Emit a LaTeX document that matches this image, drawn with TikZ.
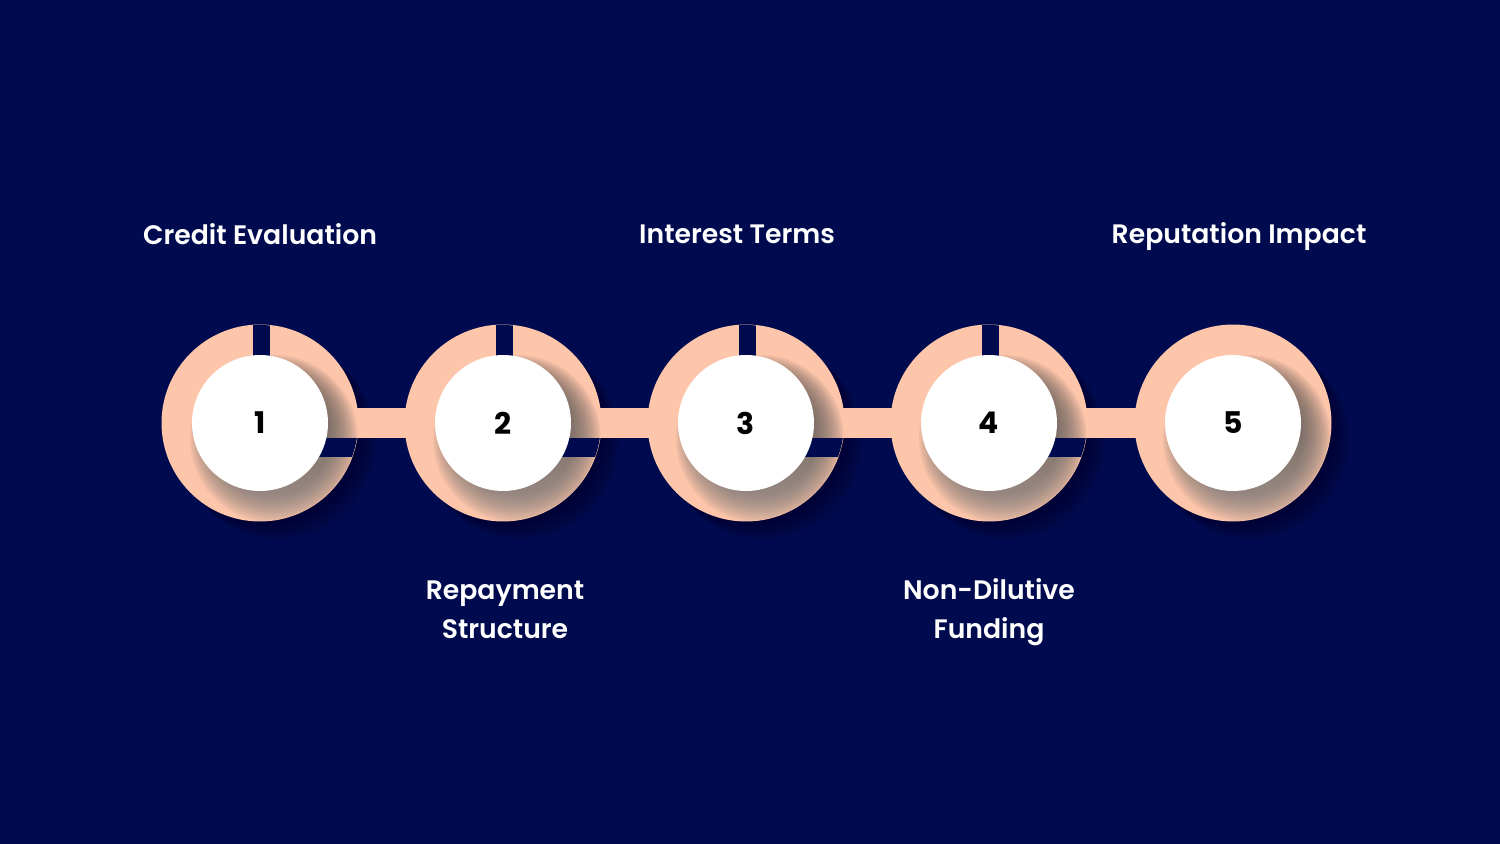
\documentclass[tikz,border=0pt]{standalone}
\usepackage{fontspec}
\setmainfont{Poppins}
\newfontfamily\labelfont{Poppins SemiBold}
\usetikzlibrary{positioning}

\definecolor{navy}{HTML}{000B4F}
\definecolor{peach}{HTML}{FDC5AA}
\definecolor{shade}{HTML}{8A4A34}

\begin{document}
\begin{tikzpicture}[x=0.02cm, y=-0.02cm,
        ring/.style={circle, fill=peach, minimum size=3.94cm, inner sep=0pt},
        disc/.style={circle, fill=white, minimum size=2.72cm, inner sep=0pt,
            font=\bfseries\fontsize{17}{17}\selectfont},
        link/.style={peach, line width=0.6cm},
        title/.style={white, align=center, font=\labelfont\fontsize{15.2}{22}\selectfont}]

        % background
        \useasboundingbox (0,0) rectangle (1500,844);
        \fill[navy] (0,0) rectangle (1500,844);

        % soft shadow of the rings
        \foreach \x in {260,503,746,989,1233}
        {
            \foreach \k in {1,...,10}
            {
                \fill[black, opacity=0.03] (\x+\k*2,423+\k*2) circle (98);
            }
        }

        % rings
        \foreach \i/\x in {1/260,2/503,3/746,4/989,5/1233}
        {
            \node[ring] (r\i) at (\x,423) {};
        }

        % links between rings
        \foreach \a/\b in {1/2,2/3,3/4,4/5}
        {
            \draw[link] (r\a.center) -- (r\b.center);
        }

        % soft shadow of the discs, slot on top and notch on the right
        \foreach \i in {1,...,5}
        {
            \begin{scope}
                \clip (r\i.center) circle (98);
                \foreach \k in {0,...,14}
                {
                    \fill[shade, opacity=0.045] ([shift={(14,16)}]r\i.center) circle (56+\k*2);
                }
                \ifnum\i<5
                    \fill[navy] ([shift={(-7,-110)}]r\i.center) rectangle ([shift={(10,0)}]r\i.center);
                    \fill[navy] ([shift={(0,15)}]r\i.center) rectangle ([shift={(105,34)}]r\i.center);
                \fi
            \end{scope}
        }

        % numbered discs
        \foreach \i in {1,...,5}
        {
            \node[disc] (d\i) at (r\i) {\i};
        }

        % step titles
        \node[title] (t1) at (260,234) {Credit Evaluation};
        \node[title] (t2) at (505,610) {Repayment\\Structure};
        \node[title] (t3) at (737,234) {Interest Terms};
        \node[title] (t4) at (989,612) {Non-Dilutive\\Funding};
        \node[title] (t5) at (1239,237) {Reputation Impact};
    \end{tikzpicture}
\end{document}
